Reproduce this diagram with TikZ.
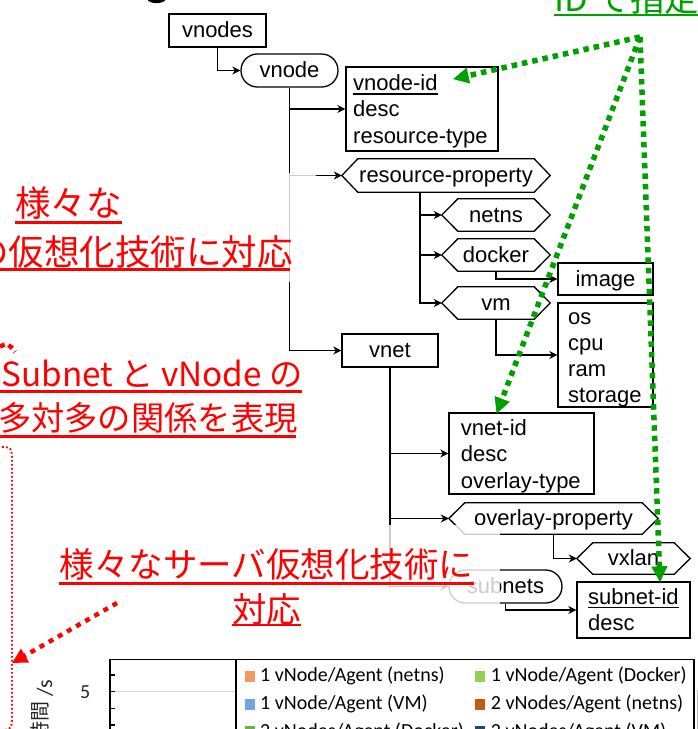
\documentclass[tikz,border=0pt]{standalone}
\usepackage{fontspec}
\setmainfont{Liberation Sans}
\newfontfamily\cjk{Noto Sans CJK JP}
\newfontfamily\calib{Carlito}
\usetikzlibrary{arrows.meta,calc}
\definecolor{jred}{RGB}{255,0,0}
\definecolor{jgreen}{RGB}{0,160,0}
\definecolor{legA}{RGB}{241,154,96}
\definecolor{legB}{RGB}{146,208,80}
\definecolor{legC}{RGB}{112,166,222}
\definecolor{legD}{RGB}{197,90,17}
\definecolor{legE}{RGB}{112,173,71}
\definecolor{legF}{RGB}{38,68,120}
\tikzset{
  lbl/.style={font=\fontsize{22}{26}\selectfont, text height=16pt, text depth=1.6pt, inner sep=0pt},
  rectbox/.style={lbl, draw=black, line width=1.3pt, rectangle},
  stadium/.style={lbl, draw=black, line width=1.3pt, rounded corners=16.4pt},
  hexbox/.style={lbl, rectangle},
  fieldbox/.style={draw=black, line width=1.3pt, inner sep=0pt},
  fieldtxt/.style={font=\fontsize{22}{26}\selectfont, inner sep=0pt, anchor=base west},
  hexline/.style={draw=black, line width=1.3pt, line join=miter},
  link/.style={line width=1.5pt, -{Stealth[length=8pt,width=8pt,inset=2.5pt]}},
  haze/.style={fill=white, fill opacity=0.8, draw=none},
  jp/.style={font=\cjk\fontsize{34.5}{40}\selectfont, text=jred, inner sep=0pt},
  jpbig/.style={font=\cjk\fontsize{35.5}{40}\selectfont, text=jred, inner sep=0pt},
  jpsmall/.style={font=\cjk\fontsize{33.3}{40}\selectfont, text=jred, inner sep=0pt},
  redul/.style={draw=jred, line width=2.6pt},
  greenul/.style={draw=jgreen, line width=2.6pt},
  garrow/.style={draw=jgreen, line width=5.5pt, dash pattern=on 5.5pt off 5pt,
    -{Triangle[length=16pt,width=15pt]}},
  rarrow/.style={draw=jred, line width=4.5pt, dash pattern=on 5pt off 5.5pt,
    -{Triangle[length=15pt,width=15pt]}},
  legtxt/.style={font=\calib\fontsize{20}{24}\selectfont, inner sep=0pt, anchor=base west},
}
\begin{document}
\begin{tikzpicture}[x=1pt,y=-1pt]
\useasboundingbox (0,0) rectangle (698,729);
\clip (0,0) rectangle (698,729);

% bottom of a title glyph at the top edge
\fill[black] (147,-1) .. controls (149,4.5) and (164,4.5) .. (166,-1) -- cycle;

% ---------- data model tree ----------
\node[rectbox, minimum width=97pt, minimum height=33pt] (vnodes) at (217.5,30.5) {vnodes};
\node[stadium, minimum width=97pt, minimum height=33pt] (vnode) at (289.5,70.5) {vnode};

\node[fieldbox, minimum width=152pt, minimum height=84pt] (vnodeid) at (422,109) {};
\node[fieldtxt] (vnodeidA) at (353,90) {vnode-id};
\node[fieldtxt] (vnodeidB) at (353,116.5) {desc};
\node[fieldtxt] (vnodeidC) at (353,143) {resource-type};
\draw[line width=1.5pt] ($(vnodeidA.base west)+(0,4)$) -- ($(vnodeidA.base east)+(0,4)$);

\node[hexbox, minimum width=208pt, minimum height=33pt] (rp) at (446,175.5) {resource-property};
\node[hexbox, minimum width=108pt, minimum height=32pt] (netns) at (496,215) {netns};
\node[hexbox, minimum width=108pt, minimum height=32pt] (docker) at (496,255) {docker};
\node[hexbox, minimum width=108pt, minimum height=32pt] (vm) at (496,303) {vm};

\node[rectbox, minimum width=95pt, minimum height=32pt] (image) at (605.5,279) {image};
\node[fieldbox, minimum width=95pt, minimum height=104pt] (osbox) at (605.5,355) {};
\node[fieldtxt] (osA) at (568,324.3) {os};
\node[fieldtxt] (osB) at (568,350.5) {cpu};
\node[fieldtxt] (osC) at (568,376.7) {ram};
\node[fieldtxt] (osD) at (568,402.9) {storage};

\node[rectbox, minimum width=96pt, minimum height=33pt] (vnet) at (390,350.5) {vnet};

\node[fieldbox, minimum width=145pt, minimum height=81pt] (vnetid) at (521.5,453.5) {};
\node[fieldtxt] (vnetidA) at (460.7,435) {vnet-id};
\node[fieldtxt] (vnetidB) at (460.7,461.5) {desc};
\node[fieldtxt] (vnetidC) at (460.7,488) {overlay-type};

\node[hexbox, minimum width=209pt, minimum height=31pt] (ovp) at (553.5,518.5) {overlay-property};
\node[hexbox, minimum width=113pt, minimum height=31pt] (vxlan) at (633.5,558.5) {vxlan};

\node[stadium, minimum width=113pt, minimum height=33pt] (subnets) at (505.5,586.5) {subnets};
\node[fieldbox, minimum width=113pt, minimum height=56pt] (subnetid) at (633.5,610) {};
\node[fieldtxt] (subnetidA) at (588,604) {subnet-id};
\node[fieldtxt] (subnetidB) at (588,630) {desc};
\draw[line width=1.5pt] ($(subnetidA.base west)+(0,3.5)$) -- ($(subnetidA.base east)+(0,3.5)$);

% hexagon outlines
\foreach \h in {rp,netns,docker,vm,ovp,vxlan}{
  \draw[hexline] (\h.west) -- ([xshift=16pt]\h.north west) -- ([xshift=-16pt]\h.north east)
    -- (\h.east) -- ([xshift=-16pt]\h.south east) -- ([xshift=16pt]\h.south west) -- cycle;
}

% tree connectors
\draw[link] (vnodes.south) |- (vnode.west);
\draw[link] (vnode.south) |- (vnodeid.west);
\draw[link] (vnode.south) |- (rp.west);
\draw[link] (vnode.south) |- (vnet.west);
\coordinate (rpT) at ($(rp.south west)+(78,0)$);
\draw[link] (rpT) |- (netns.west);
\draw[link] (rpT) |- (docker.west);
\draw[link] (rpT) |- (vm.west);
\draw[link] (docker.south) |- (image.west);
\draw[link] (vm.south) |- (osbox.west);
\draw[link] (vnet.south) |- (vnetid.west);
\draw[link] (vnet.south) |- (ovp.west);
\draw[link] (vnet.south) |- (subnets.west);
\draw[link] (ovp.south) |- (vxlan.west);
\draw[link] (subnets.south) |- (subnetid.west);

% ---------- green callout: IDs ----------
\node[font=\cjk\fontsize{34.5}{40}\selectfont, text=jgreen, inner sep=0pt, anchor=base west] (idnote) at (554,11) {ID で指定};
\draw[greenul] ($(idnote.base west)+(0,4)$) -- ($(idnote.base east)+(0,4)$);
\coordinate (idsrc) at (640,37);
\draw[garrow] (idsrc) -- ([xshift=15pt,yshift=3pt]vnodeidA.east);
\draw[garrow] (idsrc) -- ([xshift=-25pt,yshift=-1.5pt]vnetid.north);
\draw[garrow] (idsrc) -- ([xshift=26.5pt,yshift=-1pt]subnetid.north);

% ---------- red callouts ----------
\fill[haze] (-5,173) rectangle (316,282);
\fill[haze] (35,525) rectangle (500,636);

\node[jpbig, anchor=base west] (t1a) at (15,216.2) {様々な};
\draw[redul] ($(t1a.base west)+(0,6.5)$) -- ($(t1a.base east)+(0,6.5)$);
\node[jpbig, anchor=base east] (t1b) at (293,265) {の仮想化技術に対応};
\draw[redul] ($(t1b.base west)+(0,4.3)$) -- ($(t1b.base east)+(-3,4.3)$);

\node[jpsmall, anchor=base east] (t2a) at (303,386) {Subnet と vNode の};
\draw[redul] ($(t2a.base west)+(-5,5.7)$) -- ($(t2a.base east)+(-1,5.7)$);
\node[jpsmall, anchor=base east] (t2b) at (298,430) {多対多の関係を表現};
\draw[redul] ($(t2b.base west)+(0,6.7)$) -- ($(t2b.base east)+(-2,6.7)$);

\node[jp, anchor=base] (t3a) at (266.5,577) {様々なサーバ仮想化技術に};
\draw[redul] ($(t3a.base west)+(0,6.3)$) -- ($(t3a.base east)+(0,6.3)$);
\node[jp, anchor=base] (t3b) at (266.5,622) {対応};
\draw[redul] ($(t3b.base west)+(0,3)$) -- ($(t3b.base east)+(0,3)$);

% red dotted frame edge and pointers
\draw[jred, line width=1.8pt, dash pattern=on 1.8pt off 2.2pt]
  (-2,447) .. controls (12,447) .. (12,462) -- (12,716) .. controls (12,729) .. (-2,731);
\draw[jred, line width=4.5pt, dash pattern=on 5pt off 4pt] (0,346.5) .. controls (8,343) .. (15,352);
\coordinate (redsrc) at (117,603);
\coordinate (redtip) at (12,663);
\draw[rarrow] (redsrc) -- (redtip);

% ---------- chart fragment ----------
\draw[black!15, line width=1pt] (110,691.7) -- (236,691.7);
\draw[black, line width=1.6pt] (110,735) -- (110,659.5) -- (694,659.5);
\foreach \ty in {675,691.7,708.2,725}{
  \draw[black, line width=1.2pt] (110,\ty) -- (115,\ty);
}
\node[font=\calib\fontsize{20}{24}\selectfont, inner sep=0pt, anchor=base east, text=black!85] (tick5) at (90.5,698.5) {5};
\node[font=\calib\fontsize{22}{24}\selectfont, inner sep=0pt, rotate=90, anchor=base east, text=black!85] (ylab) at (52,679.5) {{\cjk\fontsize{20}{24}\selectfont\raisebox{5pt}{時間}} /s};

\draw[black, line width=1.6pt] (236,740) -- (236,659.5) -- (694,659.5) -- (694,740);
\draw[black!25, line width=1pt] (697,690) -- (697,740);

\fill[legA] (245,671) rectangle (255,682);
\node[legtxt] (legA) at (260,681.5) {1 vNode/Agent (netns)};
\fill[legB] (474.5,671) rectangle (485,682);
\node[legtxt] (legB) at (490.7,681.5) {1 vNode/Agent (Docker)};
\fill[legC] (245,698.5) rectangle (255,709.5);
\node[legtxt] (legC) at (260,709.5) {1 vNode/Agent (VM)};
\fill[legD] (474.5,698.5) rectangle (485,709.5);
\node[legtxt] (legD) at (490.7,709.5) {2 vNodes/Agent (netns)};
\fill[legE] (245,726) rectangle (255,737);
\node[legtxt] (legE) at (260,737.5) {2 vNodes/Agent (Docker)};
\fill[legF] (474.5,726) rectangle (485,737);
\node[legtxt] (legF) at (490.7,737.5) {2 vNodes/Agent (VM)};
\end{tikzpicture}
\end{document}
